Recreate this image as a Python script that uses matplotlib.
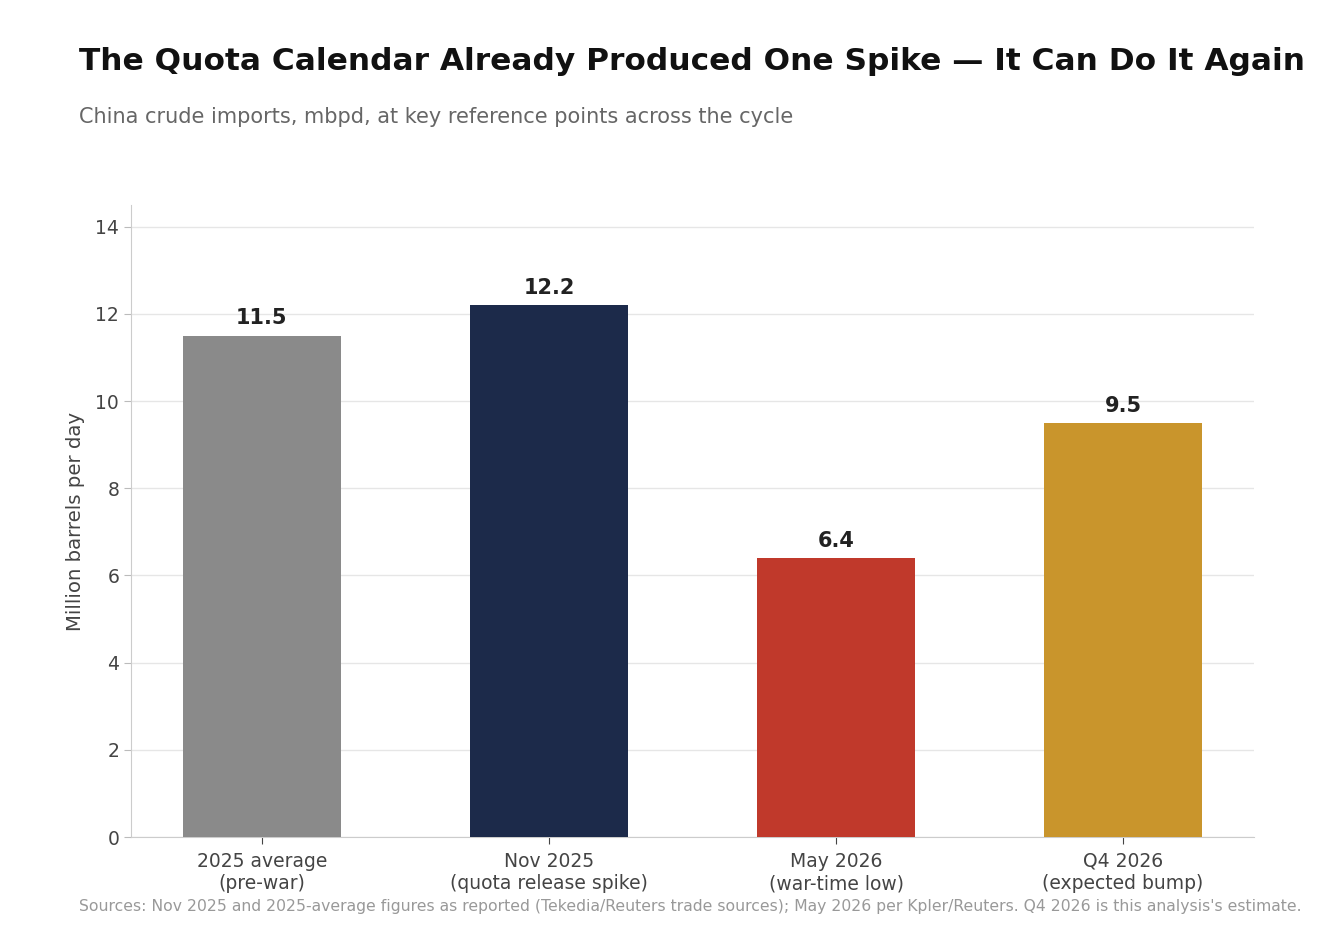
import numpy as np
import matplotlib
matplotlib.use("Agg")
import matplotlib.pyplot as plt

categories = ["2025 average\n(pre-war)", "Nov 2025\n(quota release spike)",
              "May 2026\n(war-time low)", "Q4 2026\n(expected bump)"]
values = [11.5, 12.2, 6.4, 9.5]
bar_colors = ["#8a8a8a", "#1c2a4a", "#c0392b", "#c9952c"]

title = "The Quota Calendar Already Produced One Spike \u2014 It Can Do It Again"
subtitle = "China crude imports, mbpd, at key reference points across the cycle"
source = ("Sources: Nov 2025 and 2025-average figures as reported (Tekedia/Reuters trade sources); "
          "May 2026 per Kpler/Reuters. Q4 2026 is this analysis's estimate.")


def main():
    fig = plt.figure(figsize=(13.2, 9.3), dpi=100)
    ax = fig.add_axes([131 / 1320, 1 - 837 / 930, (1254 - 131) / 1320, (837 - 205) / 930])

    x = np.arange(len(categories))
    ax.bar(x, values, width=0.55, color=bar_colors, zorder=3)
    for xi, v in zip(x, values):
        ax.text(xi, v + 0.17, f"{v:.1f}", ha="center", va="bottom",
                fontsize=15, fontweight="bold", color="#222222")

    ax.set_xticks(x)
    ax.set_xticklabels(categories, fontsize=13.5, color="#444444", linespacing=1.25)
    ax.set_ylim(0, 14.5)
    ax.set_xlim(-0.456, 3.456)
    ax.set_yticks(range(0, 15, 2))
    ax.tick_params(axis="y", labelsize=13.5, colors="#444444", length=5, color="#bbbbbb")
    ax.tick_params(axis="x", length=5, color="#444444", pad=5.5)
    ax.set_ylabel("Million barrels per day", fontsize=14.2, color="#444444", labelpad=7.5)
    ax.grid(axis="y", color="#e6e6e6", linewidth=1, zorder=0)
    for s in ["top", "right"]:
        ax.spines[s].set_visible(False)
    for s in ["left", "bottom"]:
        ax.spines[s].set_color("#cccccc")

    fig.text(79 / 1320, 1 - 61 / 930, title, fontsize=22.5, fontweight="bold",
             color="#111111", va="center")
    fig.text(79 / 1320, 1 - 117 / 930, subtitle, fontsize=15, color="#666666", va="center")
    fig.text(79 / 1320, 1 - 906 / 930, source, fontsize=11.27, color="#999999", va="center")

    fig.savefig("out.png", dpi=100)


if __name__ == "__main__":
    main()
